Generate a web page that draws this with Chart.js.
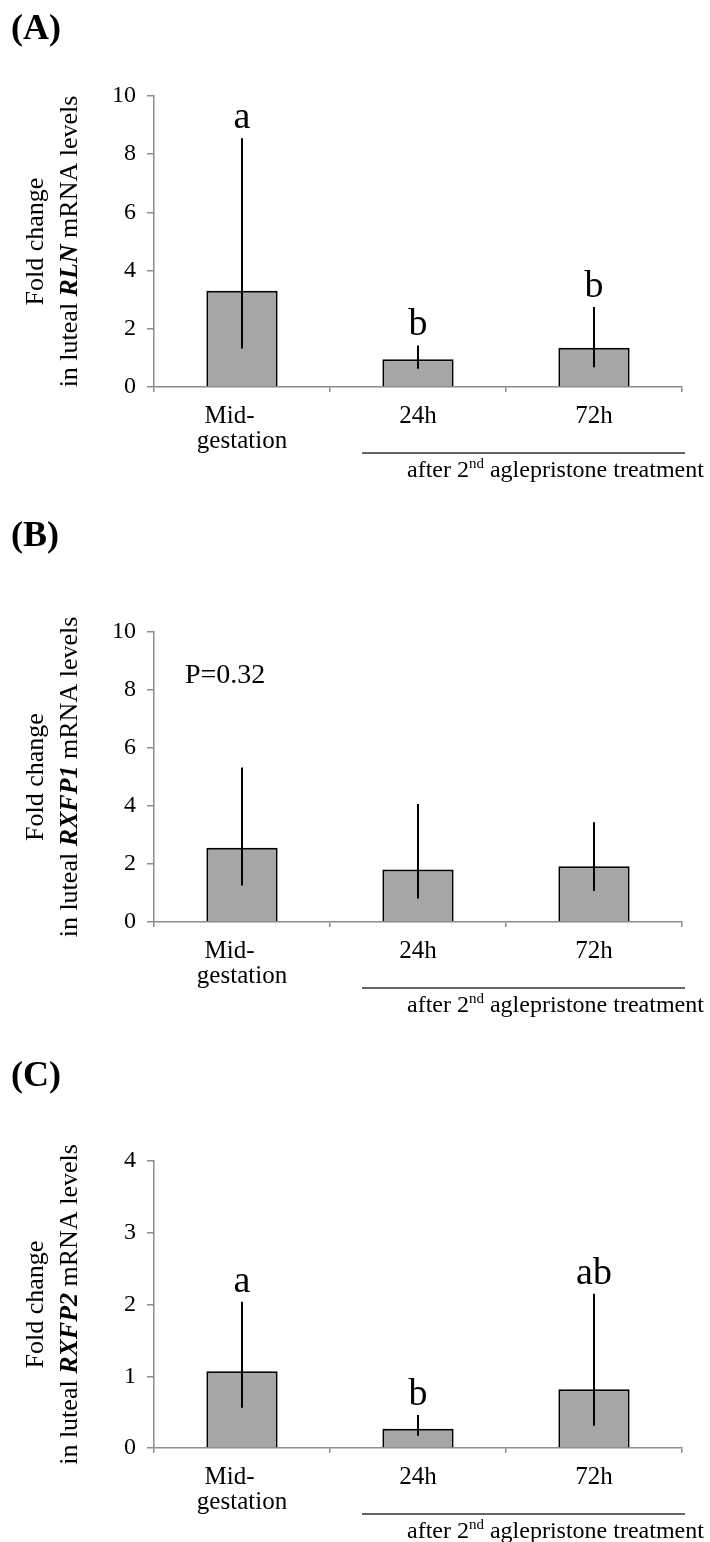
<!DOCTYPE html>
<html>
<head>
<meta charset="utf-8">
<script src="https://cdn.jsdelivr.net/npm/chart.js@4.4.0/dist/chart.umd.min.js"></script>
<style>
  body { margin: 0; background: #fff; }
  #wrap { position: relative; width: 710px; height: 1542px; overflow: hidden; }
  canvas { position: absolute; left: 0; }
</style>
</head>
<body>
<div id="wrap">
  <canvas id="chartA" width="710" height="510" style="top:0px"></canvas>
  <canvas id="chartB" width="710" height="520" style="top:510px"></canvas>
  <canvas id="chartC" width="710" height="512" style="top:1030px"></canvas>
</div>
<script>
// data
// (trailing spaces on "Mid-" push it left, like the original's left-ish alignment)
var categories = [['Mid-    ', 'gestation'], '24h', '72h'];

var rlnMean = [3.31, 0.95, 1.35];
var rlnLow = [1.32, 0.63, 0.68];
var rlnHigh = [8.55, 1.43, 2.75];
var rlnLetters = ['a', 'b', 'b'];

var rxfp1Mean = [2.56, 1.81, 1.92];
var rxfp1Low = [1.26, 0.81, 1.07];
var rxfp1High = [5.33, 4.07, 3.44];
var rxfp1Letters = ['', '', ''];

var rxfp2Mean = [1.07, 0.27, 0.82];
var rxfp2Low = [0.56, 0.17, 0.31];
var rxfp2High = [2.04, 0.46, 2.15];
var rxfp2Letters = ['a', 'b', 'ab'];

var yMaxA = 10, yStepA = 2;
var yMaxB = 10, yStepB = 2;
var yMaxC = 4, yStepC = 1;

var serif = "'Liberation Serif', 'Times New Roman', serif";
var axisGray = '#8c8c8c';

// draws rotated text made of several font runs, centred on cy
function drawRotatedRuns(ctx, runs, bx, cy) {
    ctx.save();
    ctx.translate(bx, cy);
    ctx.rotate(-Math.PI / 2);
    ctx.textBaseline = 'alphabetic';
    ctx.textAlign = 'left';
    var total = 0;
    runs.forEach(function (r) {
        ctx.font = r.font;
        r.w = ctx.measureText(r.text).width;
        total += r.w;
    });
    var pos = -total / 2;
    runs.forEach(function (r) {
        ctx.font = r.font;
        ctx.fillText(r.text, pos, 0);
        pos += r.w;
    });
    ctx.restore();
}

var extras = {
    id: 'extras',
    afterDatasetsDraw: function (chart, args, opts) {
        var ctx = chart.ctx;
        var xs = chart.scales.x, ys = chart.scales.y;
        ctx.save();
        ctx.strokeStyle = '#000';
        ctx.lineWidth = 2;
        opts.low.forEach(function (lo, i) {
            var px = xs.getPixelForValue(i);
            var top = ys.getPixelForValue(opts.high[i]);
            ctx.beginPath();
            ctx.moveTo(px, ys.getPixelForValue(lo));
            ctx.lineTo(px, top);
            ctx.stroke();
            if (opts.letters[i]) {
                ctx.fillStyle = '#000';
                ctx.font = '38px ' + serif;
                ctx.textAlign = 'center';
                ctx.textBaseline = 'alphabetic';
                ctx.fillText(opts.letters[i], px, top - 10);
            }
        });
        ctx.restore();
    },
    afterDraw: function (chart, args, opts) {
        var ctx = chart.ctx;
        var a = chart.chartArea;
        ctx.save();
        ctx.fillStyle = '#000';

        // panel letter
        ctx.font = 'bold 36px ' + serif;
        ctx.textAlign = 'left';
        ctx.textBaseline = 'alphabetic';
        ctx.fillText(opts.label, 11, opts.labelY);

        // y axis title, two rotated lines
        var cy = (a.top + a.bottom) / 2;
        var f = '26px ' + serif;
        drawRotatedRuns(ctx, [{ text: 'Fold change', font: f }], a.left - 111, cy);
        drawRotatedRuns(ctx, [
            { text: 'in luteal ', font: f },
            { text: opts.gene, font: 'bold italic 26px ' + serif },
            { text: ' mRNA levels', font: f }
        ], a.left - 77, cy);

        // bracket under the treatment groups
        ctx.strokeStyle = '#333';
        ctx.lineWidth = 1.3;
        ctx.beginPath();
        ctx.moveTo(362, a.bottom + 66);
        ctx.lineTo(685, a.bottom + 66);
        ctx.stroke();

        var by = a.bottom + 90;
        var x = 407;
        ctx.font = '24px ' + serif;
        ctx.fillText('after 2', x, by);
        x += ctx.measureText('after 2').width;
        ctx.font = '15px ' + serif;
        ctx.fillText('nd', x, by - 9);
        x += ctx.measureText('nd').width;
        ctx.font = '24px ' + serif;
        ctx.fillText(' aglepristone treatment', x, by);

        if (opts.note) {
            ctx.font = '28px ' + serif;
            ctx.fillText(opts.note, a.left + 31, a.top + 51);
        }
        ctx.restore();
    }
};

function makeChart(id, mean, low, high, letters, yMax, yStep, cfg) {
    var canvasH = document.getElementById(id).height;
    var plotTop = cfg.plotTop;
    var xHeight = canvasH - cfg.plotBottom;
    return new Chart(document.getElementById(id), {
        type: 'bar',
        data: {
            labels: categories,
            datasets: [{
                data: mean,
                backgroundColor: '#a6a6a6',
                borderColor: '#000',
                borderWidth: 2,
                borderSkipped: 'bottom',
                categoryPercentage: 1,
                barPercentage: 0.405
            }]
        },
        options: {
            responsive: false,
            animation: false,
            layout: { padding: { top: plotTop, right: 28, left: 0, bottom: 0 } },
            plugins: {
                legend: { display: false },
                tooltip: { enabled: false },
                extras: {
                    low: low, high: high, letters: letters,
                    label: cfg.label, labelY: cfg.labelY,
                    gene: cfg.gene, note: cfg.note
                }
            },
            scales: {
                x: {
                    grid: { drawOnChartArea: false, tickLength: 5, color: axisGray, lineWidth: 1.5, offset: true },
                    border: { color: axisGray, width: 1.5 },
                    ticks: {
                        color: '#000', padding: 12, maxRotation: 0, autoSkip: false,
                        font: { family: serif, size: 25, lineHeight: 1.0 }
                    },
                    afterFit: function (s) { s.height = xHeight; }
                },
                y: {
                    min: 0, max: yMax,
                    grid: { drawOnChartArea: false, tickLength: 7, color: axisGray, lineWidth: 1.5 },
                    border: { color: axisGray, width: 1.5 },
                    ticks: { stepSize: yStep, color: '#000', padding: 11, font: { family: serif, size: 24 } },
                    afterFit: function (s) { s.width = 154; }
                }
            }
        },
        plugins: [extras]
    });
}

makeChart('chartA', rlnMean, rlnLow, rlnHigh, rlnLetters, yMaxA, yStepA,
    { plotTop: 96, plotBottom: 387, label: '(A)', labelY: 39, gene: 'RLN' });
makeChart('chartB', rxfp1Mean, rxfp1Low, rxfp1High, rxfp1Letters, yMaxB, yStepB,
    { plotTop: 122, plotBottom: 412, label: '(B)', labelY: 36, gene: 'RXFP1', note: 'P=0.32' });
makeChart('chartC', rxfp2Mean, rxfp2Low, rxfp2High, rxfp2Letters, yMaxC, yStepC,
    { plotTop: 131, plotBottom: 418, label: '(C)', labelY: 56, gene: 'RXFP2' });
</script>
</body>
</html>
